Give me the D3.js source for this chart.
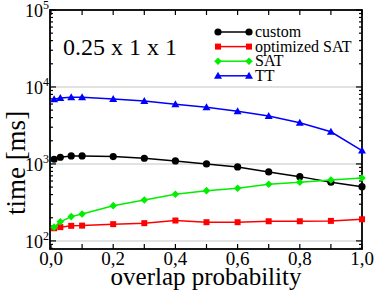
<!DOCTYPE html>
<html>
<head>
<meta charset="utf-8">
<script src="https://cdn.jsdelivr.net/npm/d3@7"></script>
<style>
  body { margin: 0; background: #fff; }
</style>
</head>
<body>
<div id="chart"></div>
<script>
// overlap probability
var xValues = [0.01, 0.03, 0.065, 0.1, 0.2, 0.3, 0.4, 0.5, 0.6, 0.7, 0.8, 0.9, 1.0];

// time [ms] per method
var customTimes = [1150, 1222, 1270, 1270, 1245, 1186, 1094, 1000, 915, 787, 684, 578, 507];
var optSatTimes = [146, 151, 157, 158, 165, 170, 184, 175, 175, 180, 180, 182, 191];
var satTimes    = [151, 177, 207, 224, 287, 340, 404, 450, 483, 545, 578, 619, 658];
var ttTimes     = [6920, 7190, 7340, 7340, 6980, 6580, 5960, 5440, 4850, 4200, 3430, 2620, 1490];

var seriesNames = ["custom", "optimized SAT", "SAT", "TT"];
var xTickLabels = ["0,0", "0,2", "0,4", "0,6", "0,8", "1,0"];
var yDecades = [2, 3, 4, 5];

var svgWidth = 374;
var svgHeight = 292;

var svg = d3.select("#chart")
  .append("svg")
  .attr("width", svgWidth)
  .attr("height", svgHeight)
  .attr("font-family", "Liberation Serif");

// plot frame edges
var plot = {left: 50, right: 362, top: 10, bottom: 249};

var x = d3.scaleLinear().domain([0, 1]).range([51, 362]);
var y = d3.scaleLog().domain([78.5, 1e5]).range([plot.bottom, plot.top]);

// gray grid lines at decades inside plot
svg.selectAll(".grid")
  .data([100, 1000, 10000])
  .enter()
  .append("line")
  .attr("x1", plot.left).attr("x2", plot.right)
  .attr("y1", d => y(d)).attr("y2", d => y(d))
  .attr("stroke", "#d8d8d8")
  .attr("stroke-width", 1.5);

// x ticks (bottom and top, pointing inward)
var xTicks = d3.range(0, 11).map(i => i / 10);
xTicks.forEach(function(t) {
  svg.append("line")
    .attr("x1", x(t)).attr("x2", x(t))
    .attr("y1", plot.bottom).attr("y2", plot.bottom - 5)
    .attr("stroke", "#000").attr("stroke-width", 1.2);
  svg.append("line")
    .attr("x1", x(t)).attr("x2", x(t))
    .attr("y1", plot.top).attr("y2", plot.top + 5)
    .attr("stroke", "#000").attr("stroke-width", 1.2);
});

// y ticks (left and right, major + minor)
var yTicks = [];
for (var e = 1; e <= 5; e++) {
  for (var m = 1; m <= 9; m++) {
    var v = m * Math.pow(10, e);
    if (v >= 78.5 && v <= 1e5) yTicks.push({v: v, major: m === 1});
  }
}
yTicks.forEach(function(t) {
  var len = t.major ? 6 : 3;
  svg.append("line")
    .attr("x1", plot.left).attr("x2", plot.left + len)
    .attr("y1", y(t.v)).attr("y2", y(t.v))
    .attr("stroke", "#000").attr("stroke-width", 1.2);
  svg.append("line")
    .attr("x1", plot.right).attr("x2", plot.right - len)
    .attr("y1", y(t.v)).attr("y2", y(t.v))
    .attr("stroke", "#000").attr("stroke-width", 1.2);
});

// frame
svg.append("rect")
  .attr("x", plot.left).attr("y", plot.top)
  .attr("width", plot.right - plot.left).attr("height", plot.bottom - plot.top)
  .attr("fill", "none")
  .attr("stroke", "#000")
  .attr("stroke-width", 1.8);

// x tick labels
svg.selectAll(".xlab")
  .data(xTickLabels)
  .enter()
  .append("text")
  .attr("x", (d, i) => x(i * 0.2))
  .attr("y", 265)
  .attr("text-anchor", "middle")
  .attr("font-size", 19)
  .text(d => d);

// y tick labels: 10^n
yDecades.forEach(function(p) {
  svg.append("text")
    .attr("x", 43)
    .attr("y", y(Math.pow(10, p)) + 7)
    .attr("text-anchor", "end")
    .attr("font-size", 18)
    .text("10");
  svg.append("text")
    .attr("x", 43)
    .attr("y", y(Math.pow(10, p)) - 1)
    .attr("font-size", 12)
    .text(p);
});

// axis titles
svg.append("text")
  .attr("x", 206).attr("y", 285)
  .attr("text-anchor", "middle")
  .attr("font-size", 25)
  .text("overlap probability");

svg.append("text")
  .attr("transform", "translate(25, 163) rotate(-90)")
  .attr("text-anchor", "middle")
  .attr("font-size", 27)
  .text("time [ms]");

// annotation
svg.append("text")
  .attr("x", 63).attr("y", 55)
  .attr("font-size", 24)
  .text("0.25 x 1 x 1");

// series
var series = [
  {name: seriesNames[0], values: customTimes, color: "#000000", shape: "circle"},
  {name: seriesNames[1], values: optSatTimes, color: "#ff0000", shape: "square"},
  {name: seriesNames[2], values: satTimes, color: "#00ee00", shape: "diamond"},
  {name: seriesNames[3], values: ttTimes, color: "#0000ff", shape: "triangle"}
];

function drawMarker(sel, s, cx, cy) {
  if (s.shape === "circle") {
    sel.append("circle").attr("cx", cx).attr("cy", cy).attr("r", 3.6).attr("fill", s.color);
  } else if (s.shape === "square") {
    sel.append("rect").attr("x", cx - 3).attr("y", cy - 3).attr("width", 6).attr("height", 6).attr("fill", s.color);
  } else if (s.shape === "diamond") {
    sel.append("path")
      .attr("d", `M${cx},${cy - 3.8}L${cx + 3.8},${cy}L${cx},${cy + 3.8}L${cx - 3.8},${cy}Z`)
      .attr("fill", s.color);
  } else {
    sel.append("path")
      .attr("d", `M${cx},${cy - 4}L${cx + 4},${cy + 3}L${cx - 4},${cy + 3}Z`)
      .attr("fill", s.color);
  }
}

var line = d3.line()
  .x(d => x(d[0]))
  .y(d => y(d[1]));

series.forEach(function(s) {
  var pts = xValues.map((xv, i) => [xv, s.values[i]]);
  svg.append("path")
    .datum(pts)
    .attr("d", line)
    .attr("fill", "none")
    .attr("stroke", s.color)
    .attr("stroke-width", 1.5);
  var g = svg.append("g");
  pts.forEach(function(p) {
    drawMarker(g, s, x(p[0]), y(p[1]));
  });
});

// legend
series.forEach(function(s, i) {
  var ly = 32 + i * 14.6;
  svg.append("line")
    .attr("x1", 218).attr("x2", 249)
    .attr("y1", ly).attr("y2", ly)
    .attr("stroke", s.color).attr("stroke-width", 1.5);
  var g = svg.append("g");
  drawMarker(g, s, 218, ly);
  drawMarker(g, s, 249, ly);
  svg.append("text")
    .attr("x", 255).attr("y", ly + 5)
    .attr("font-size", 16)
    .text(s.name);
});
</script>
</body>
</html>
